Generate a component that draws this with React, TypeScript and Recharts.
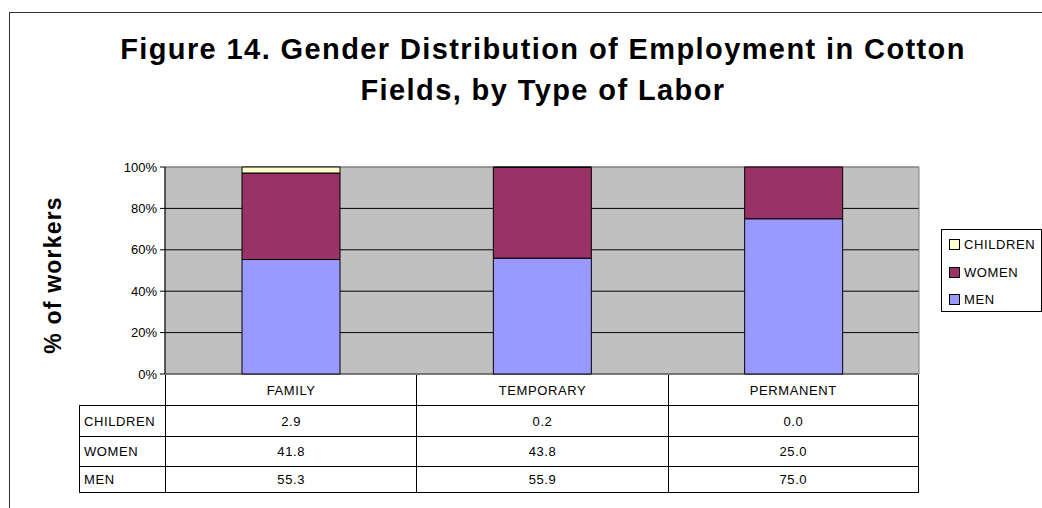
import React from "react";
import { BarChart, Bar, XAxis, YAxis, CartesianGrid, ReferenceArea } from "recharts";

const CATEGORIES = ["FAMILY", "TEMPORARY", "PERMANENT"];
const MEN = [55.3, 55.9, 75.0];
const WOMEN = [41.8, 43.8, 25.0];
const CHILDREN = [2.9, 0.2, 0.0];
const Y_TICKS = [0, 0.2, 0.4, 0.6, 0.8, 1];

// bottom-up stacking order, legend/table use the reverse
const SERIES = [
  { key: "MEN", values: MEN, color: "#9999FF" },
  { key: "WOMEN", values: WOMEN, color: "#993366" },
  { key: "CHILDREN", values: CHILDREN, color: "#FFFFCC" },
];

const data = CATEGORIES.map((c, i) => ({
  name: c,
  MEN: MEN[i],
  WOMEN: WOMEN[i],
  CHILDREN: CHILDREN[i],
}));

const FONT = '"Liberation Sans", Arial, sans-serif';

// plot frame
const PLOT_L = 165;
const PLOT_R = 919;
const PLOT_T = 167;
const PLOT_B = 374;

const TABLE_TOP = 375;
const ROW_H = [30, 31, 30, 27];
const LABEL_L = 79;

const cellText = { fontSize: 13, letterSpacing: 0.6 };

function GridLine(p: any) {
  // top edge of the plot frame is grey, inner gridlines black
  const top = Math.abs(p.y1 - PLOT_T) < 1;
  return <line x1={p.x1} y1={p.y1} x2={p.x2} y2={p.y2} stroke={top ? "#808080" : "#000"} strokeWidth={1} />;
}

function DataTable() {
  const colW = (PLOT_R - PLOT_L) / CATEGORIES.length;
  const rows = [...SERIES].reverse();
  const cells: React.ReactNode[] = [];
  let y = TABLE_TOP;
  // header row
  CATEGORIES.forEach((c, i) => {
    cells.push(
      <div
        key={"h" + c}
        style={{
          position: "absolute",
          left: PLOT_L + i * colW,
          top: y,
          width: colW,
          height: ROW_H[0],
          borderLeft: "1px solid #000",
          borderRight: i === CATEGORIES.length - 1 ? "1px solid #000" : undefined,
          boxSizing: "border-box",
          display: "flex",
          alignItems: "center",
          justifyContent: "center",
          ...cellText,
        }}
      >
        {c}
      </div>
    );
  });
  y += ROW_H[0];
  rows.forEach((s, r) => {
    const h = ROW_H[r + 1];
    cells.push(
      <div
        key={"l" + s.key}
        style={{
          position: "absolute",
          left: LABEL_L,
          top: y,
          width: PLOT_L - LABEL_L,
          height: h,
          borderLeft: "1px solid #000",
          borderTop: "1px solid #000",
          borderBottom: r === rows.length - 1 ? "1px solid #000" : undefined,
          boxSizing: "border-box",
          display: "flex",
          alignItems: "center",
          paddingLeft: 4,
          ...cellText,
        }}
      >
        {s.key}
      </div>
    );
    s.values.forEach((v, i) => {
      cells.push(
        <div
          key={s.key + i}
          style={{
            position: "absolute",
            left: PLOT_L + i * colW,
            top: y,
            width: colW,
            height: h,
            borderLeft: "1px solid #000",
            borderTop: "1px solid #000",
            borderRight: i === CATEGORIES.length - 1 ? "1px solid #000" : undefined,
            borderBottom: r === rows.length - 1 ? "1px solid #000" : undefined,
            boxSizing: "border-box",
            display: "flex",
            alignItems: "center",
            justifyContent: "center",
            ...cellText,
          }}
        >
          {v.toFixed(1)}
        </div>
      );
    });
    y += h;
  });
  return <>{cells}</>;
}

function LegendBox() {
  return (
    <div
      style={{
        position: "absolute",
        left: 941,
        top: 229,
        width: 101,
        height: 83,
        border: "1px solid #000",
        boxSizing: "border-box",
        paddingTop: 1,
      }}
    >
      {[...SERIES].reverse().map((s) => (
        <div key={s.key} style={{ display: "flex", alignItems: "center", height: 27.5, paddingLeft: 7, ...cellText }}>
          <span
            style={{
              width: 9,
              height: 9,
              background: s.color,
              border: "1.5px solid #000",
              marginRight: 4,
              boxSizing: "content-box",
            }}
          />
          {s.key}
        </div>
      ))}
    </div>
  );
}

export default function App() {
  return (
    <div
      style={{
        position: "absolute",
        left: 0,
        top: 0,
        width: 1042,
        height: 508,
        overflow: "hidden",
        background: "#fff",
        fontFamily: FONT,
        color: "#000",
      }}
    >
      <div
        style={{
          position: "absolute",
          left: 9,
          top: 12,
          width: 1100,
          height: 600,
          border: "1px solid #333",
        }}
      />
      <div
        style={{
          position: "absolute",
          left: 0,
          top: 29,
          width: 1086,
          textAlign: "center",
          fontWeight: "bold",
          fontSize: 29,
          letterSpacing: 1.4,
          lineHeight: "41px",
        }}
      >
        Figure 14. Gender Distribution of Employment in Cotton
        <br />
        Fields, by Type of Labor
      </div>
      <div
        style={{
          position: "absolute",
          left: 53,
          top: 275,
          transform: "translate(-50%, -50%) rotate(-90deg)",
          whiteSpace: "nowrap",
          fontWeight: "bold",
          fontSize: 23,
          letterSpacing: 1.2,
        }}
      >
        % of workers
      </div>
      <div style={{ position: "absolute", left: 0, top: 0 }}>
        <BarChart
          width={1042}
          height={508}
          data={data}
          stackOffset="expand"
          barSize={98}
          margin={{ top: PLOT_T, right: 1042 - PLOT_R, left: 0, bottom: 508 - PLOT_B }}
        >
          <CartesianGrid vertical={false} fill="#C0C0C0" fillOpacity={1} horizontal={GridLine} />
          <ReferenceArea y1={0} y2={1} fill="none" stroke="#808080" ifOverflow="visible" />
          <XAxis dataKey="name" hide />
          <YAxis
            width={PLOT_L}
            domain={[0, 1]}
            ticks={Y_TICKS}
            tickFormatter={(v: number) => `${Math.round(v * 100)}%`}
            axisLine={{ stroke: "#000" }}
            tickLine={{ stroke: "#000" }}
            tickSize={5}
            tickMargin={3}
            tick={{ fontSize: 13, fill: "#000", fontFamily: FONT }}
          />
          {SERIES.map((s) => (
            <Bar
              key={s.key}
              dataKey={s.key}
              stackId="a"
              fill={s.color}
              stroke="#000"
              strokeWidth={1}
              isAnimationActive={false}
            />
          ))}
        </BarChart>
      </div>
      <DataTable />
      <LegendBox />
    </div>
  );
}
